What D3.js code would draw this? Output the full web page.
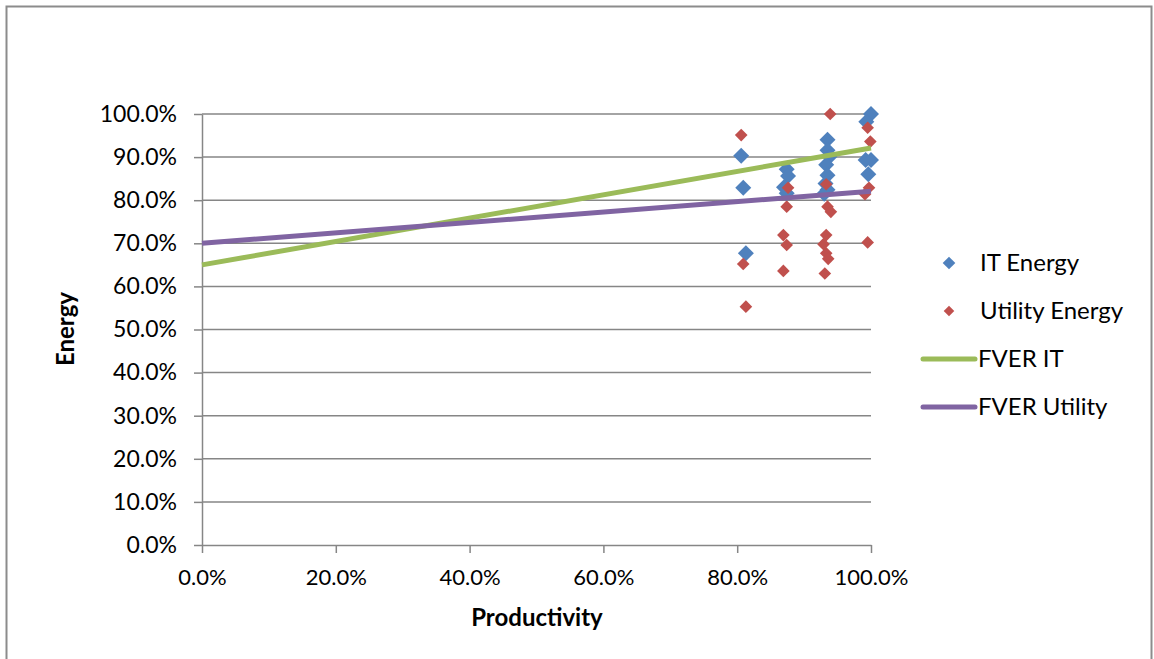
<!DOCTYPE html>
<html>
<head>
<meta charset="utf-8">
<script src="https://cdn.jsdelivr.net/npm/d3@7"></script>
<style>
  body { margin: 0; background: #fff; }
  svg { display: block; }
  .axis path, .axis line { stroke: #868686; }
  .axis text { font-family: Lato, "Open Sans", sans-serif; font-size: 22px; fill: #000; }
  .axis.y text { font-size: 23px; }
</style>
</head>
<body>
<svg width="1154" height="659"></svg>
<script>
// productivity (x) and energy (y), in percent
var itEnergy = [
  [80.6, 90.3], [80.9, 82.9], [81.3, 67.7],
  [87.4, 87.2], [87.6, 85.6], [87.0, 83.0], [87.4, 81.6],
  [93.5, 94.0], [93.5, 91.6], [93.8, 90.1], [93.3, 88.2], [93.5, 85.8],
  [93.2, 83.9], [93.5, 82.4], [93.0, 81.5],
  [100, 100], [99.3, 98.2], [99.2, 89.3], [100, 89.3], [99.6, 86.0]
];

var utilityEnergy = [
  [80.6, 95.1], [80.9, 65.2], [81.3, 55.3],
  [87.6, 82.9], [87.4, 78.5], [86.9, 71.9], [87.4, 69.6], [86.9, 63.6],
  [93.9, 100], [93.3, 83.7], [93.5, 78.5], [94.0, 77.3], [93.3, 71.9],
  [92.9, 69.8], [93.3, 67.7], [93.6, 66.4], [93.1, 63.0],
  [99.5, 96.8], [99.9, 93.6], [99.7, 82.9], [99.1, 81.4], [99.5, 70.2]
];

// trendline end points
var fverIT = [[0, 65.0], [100, 92.1]];
var fverUtility = [[0, 70.0], [100, 82.1]];

var xTicks = [0, 20, 40, 60, 80, 100];
var yTicks = [0, 10, 20, 30, 40, 50, 60, 70, 80, 90, 100];

var font = "Lato, 'Open Sans', sans-serif";

var svg = d3.select("svg");

// chart border
svg.append("rect")
    .attr("x", 6.5).attr("y", 6.5)
    .attr("width", 1145).attr("height", 670)
    .attr("fill", "none")
    .attr("stroke", "#8c8c8c")
    .attr("stroke-width", 2);

var margin = {left: 202, top: 114, right: 283, bottom: 114},
    width = 1154 - margin.left - margin.right,
    height = 545 - margin.top,
    g = svg.append("g").attr("transform", "translate(" + margin.left + "," + margin.top + ")");

var x = d3.scaleLinear().domain([0, 100]).range([0, width]);
var y = d3.scaleLinear().domain([0, 100]).range([height, 0]);

var pct = function(d) { return d.toFixed(1) + "%"; };

// gridlines
g.append("g")
  .selectAll("line")
  .data(yTicks.slice(1))
  .enter().append("line")
    .attr("x1", 0).attr("x2", width)
    .attr("y1", function(d) { return y(d); })
    .attr("y2", function(d) { return y(d); })
    .attr("stroke", "#868686")
    .attr("stroke-width", 1.5);

g.append("g")
    .attr("class", "axis y")
    .call(d3.axisLeft(y).tickValues(yTicks).tickFormat(pct).tickSize(8).tickSizeOuter(0).tickPadding(17));

g.append("g")
    .attr("class", "axis x")
    .attr("transform", "translate(0," + height + ")")
    .call(d3.axisBottom(x).tickValues(xTicks).tickFormat(pct).tickSize(8).tickSizeOuter(0).tickPadding(16));

svg.selectAll(".axis path, .axis line").attr("stroke-width", 1.5);

// markers
var diamond = function(size) {
  return d3.symbol().type(d3.symbolSquare).size(size);
};

g.append("g")
  .selectAll("path")
  .data(itEnergy)
  .enter().append("path")
    .attr("d", diamond(128))
    .attr("transform", function(d) { return "translate(" + x(d[0]) + "," + y(d[1]) + ") rotate(45)"; })
    .attr("fill", "#4f81bd");

g.append("g")
  .selectAll("path")
  .data(utilityEnergy)
  .enter().append("path")
    .attr("d", diamond(80))
    .attr("transform", function(d) { return "translate(" + x(d[0]) + "," + y(d[1]) + ") rotate(45)"; })
    .attr("fill", "#c0504d");

// trendlines
var line = d3.line()
    .x(function(d) { return x(d[0]); })
    .y(function(d) { return y(d[1]); });

g.append("path")
    .datum(fverIT)
    .attr("d", line)
    .attr("fill", "none")
    .attr("stroke", "#9bbb59")
    .attr("stroke-width", 5);

g.append("path")
    .datum(fverUtility)
    .attr("d", line)
    .attr("fill", "none")
    .attr("stroke", "#8064a2")
    .attr("stroke-width", 5);

// axis titles
svg.append("text")
    .attr("x", 537).attr("y", 626)
    .attr("text-anchor", "middle")
    .attr("font-family", font)
    .attr("font-size", 24)
    .attr("font-weight", "bold")
    .text("Productivity");

svg.append("text")
    .attr("transform", "translate(74,329) rotate(-90)")
    .attr("text-anchor", "middle")
    .attr("font-family", font)
    .attr("font-size", 24)
    .attr("font-weight", "bold")
    .text("Energy");

// legend
var legendItems = [
  {name: "IT Energy", type: "marker", color: "#4f81bd", size: 80},
  {name: "Utility Energy", type: "marker", color: "#c0504d", size: 56},
  {name: "FVER IT", type: "line", color: "#9bbb59"},
  {name: "FVER Utility", type: "line", color: "#8064a2"}
];

var legend = svg.append("g")
  .selectAll("g")
  .data(legendItems)
  .enter().append("g")
    .attr("transform", function(d, i) { return "translate(0," + (263 + i * 48) + ")"; });

legend.filter(function(d) { return d.type === "marker"; })
  .append("path")
    .attr("d", function(d) { return diamond(d.size)(); })
    .attr("transform", "translate(949,0) rotate(45)")
    .attr("fill", function(d) { return d.color; });

legend.filter(function(d) { return d.type === "line"; })
  .append("line")
    .attr("x1", 923).attr("x2", 975)
    .attr("stroke", function(d) { return d.color; })
    .attr("stroke-width", 5)
    .attr("stroke-linecap", "round");

legend.append("text")
    .attr("x", function(d) { return d.type === "marker" ? 980 : 978; })
    .attr("dy", "0.35em")
    .attr("font-family", font)
    .attr("font-size", 24)
    .text(function(d) { return d.name; });
</script>
</body>
</html>
